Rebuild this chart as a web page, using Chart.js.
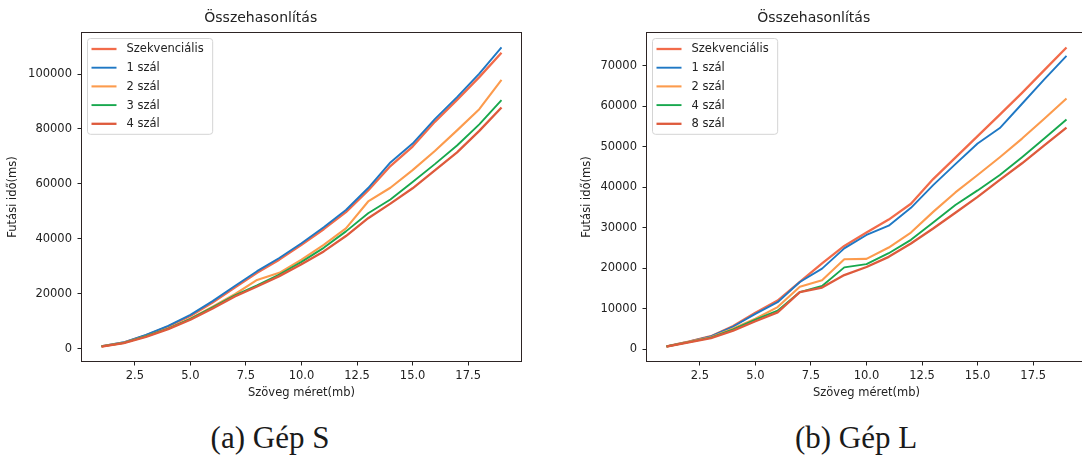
<!DOCTYPE html>
<html lang="hu">
<head>
<meta charset="utf-8">
<title>Összehasonlítás</title>
<script src="https://cdn.jsdelivr.net/npm/chart.js@4.4.1/dist/chart.umd.min.js"></script>
<style>
  html, body { margin: 0; padding: 0; background: #fff; overflow: hidden; }
  #page { position: relative; width: 1082px; height: 458px; overflow: hidden; background: #fff; }
  canvas { position: absolute; top: 0; }
  #chartS { left: 0; }
  #chartL { left: 541px; }
  .caption {
    position: absolute; top: 422px;
    font: 31px/31px "Liberation Serif", serif; color: #1a1a1a;
    white-space: nowrap; transform: translateX(-50%);
  }
</style>
</head>
<body>
<div id="page">
  <canvas id="chartS" width="603" height="400"></canvas>
  <canvas id="chartL" width="651" height="400"></canvas>
  <div class="caption" style="left:270px">(a) Gép S</div>
  <div class="caption" style="left:856px">(b) Gép L</div>
</div>
<script>
// text size in MB on the x axis
const sizesMb = [1, 2, 3, 4, 5, 6, 7, 8, 9, 10, 11, 12, 13, 14, 15, 16, 17, 18, 19];
const xTicks = [2.5, 5, 7.5, 10, 12.5, 15, 17.5];

// machine S, running time in ms
const labelsS = ['Szekvenciális', '1 szál', '2 szál', '3 szál', '4 szál'];
const yTicksS = [0, 20000, 40000, 60000, 80000, 100000];
const sSeq = [850, 2200, 4850, 8050, 11900, 16800, 22200, 27600, 32400, 37800, 43500, 49700, 57600, 66500, 73600, 82600, 90600, 98900, 107800];
const sT1 = [900, 2300, 5000, 8300, 12300, 17300, 22800, 28200, 33000, 38400, 44200, 50500, 58500, 67800, 74700, 83600, 91600, 100200, 109700];
const sT2 = [800, 2100, 4500, 7300, 10900, 15300, 19800, 25000, 27600, 32400, 37800, 43800, 53600, 58600, 65000, 72000, 79500, 87200, 97900];
const sT3 = [800, 2100, 4500, 7300, 10800, 15000, 19400, 23000, 27000, 31600, 36700, 42700, 49300, 54300, 60700, 67200, 74000, 81700, 90500];
const sT4 = [750, 2000, 4300, 7100, 10500, 14600, 19000, 22600, 26400, 30700, 35400, 41000, 47500, 52800, 58400, 64900, 71500, 79300, 87800];

// machine L, running time in ms
const labelsL = ['Szekvenciális', '1 szál', '2 szál', '4 szál', '8 szál'];
const yTicksL = [0, 10000, 20000, 30000, 40000, 50000, 60000, 70000];
const lSeq = [700, 1850, 3200, 5700, 9000, 12000, 16600, 21200, 25500, 28800, 32000, 35900, 42000, 47300, 52600, 57900, 63300, 68900, 74500];
const lT1 = [700, 1850, 3150, 5600, 8700, 11600, 16600, 19900, 24900, 28200, 30500, 34900, 40500, 45700, 50800, 54600, 60600, 66600, 72400];
const lT2 = [650, 1800, 2950, 5100, 7500, 10400, 15400, 17000, 22200, 22300, 25100, 28800, 33900, 38700, 43000, 47400, 52000, 56900, 61900];
const lT4 = [650, 1750, 2850, 4900, 7300, 9500, 14100, 15600, 20200, 21000, 23700, 27000, 31300, 35600, 39200, 43000, 47400, 52000, 56700];
const lT8 = [650, 1700, 2750, 4570, 6900, 9100, 14100, 15200, 18300, 20300, 22800, 26100, 29800, 33700, 37600, 41800, 45900, 50300, 54700];

const lineColors = ['#f26b4a', '#1f78c4', '#fc9b4d', '#18a84e', '#de5a3c'];
const lineWidths = [2.3, 1.9, 2.1, 1.9, 2.3];

const FONT = '"DejaVu Sans", sans-serif';
const INK = '#222222';
const SPINE = '#2d2424';

// 5% margin on both ends, like matplotlib's autoscale
function padRange(values, frac) {
  const lo = Math.min(...values), hi = Math.max(...values);
  const d = (hi - lo) * frac;
  return [lo - d, hi + d];
}

// box around the plotting area
const axesFrame = {
  id: 'axesFrame',
  afterDatasetsDraw(chart) {
    const {ctx, chartArea: a} = chart;
    ctx.save();
    ctx.strokeStyle = SPINE;
    ctx.lineWidth = 1;
    ctx.strokeRect(a.left, a.top, a.right - a.left, a.bottom - a.top);
    ctx.restore();
  }
};

// legend drawn inside the upper left corner of the plot
const insetLegend = {
  id: 'insetLegend',
  afterDraw(chart, args, opts) {
    const {ctx, chartArea: a} = chart;
    const sets = chart.data.datasets;
    ctx.save();
    ctx.font = opts.fontSize + 'px ' + FONT;
    const textW = Math.max(...sets.map(d => ctx.measureText(d.label).width));
    const x0 = a.left + opts.inset;
    const y0 = a.top + opts.inset;
    const w = opts.textOffset + textW + opts.padRight;
    const h = opts.rowTop * 2 + (sets.length - 1) * opts.rowStep;
    const r = 3;
    ctx.beginPath();
    ctx.moveTo(x0 + r, y0);
    ctx.lineTo(x0 + w - r, y0);
    ctx.arcTo(x0 + w, y0, x0 + w, y0 + r, r);
    ctx.lineTo(x0 + w, y0 + h - r);
    ctx.arcTo(x0 + w, y0 + h, x0 + w - r, y0 + h, r);
    ctx.lineTo(x0 + r, y0 + h);
    ctx.arcTo(x0, y0 + h, x0, y0 + h - r, r);
    ctx.lineTo(x0, y0 + r);
    ctx.arcTo(x0, y0, x0 + r, y0, r);
    ctx.closePath();
    ctx.fillStyle = 'rgba(255,255,255,0.8)';
    ctx.fill();
    ctx.strokeStyle = '#d4d4d4';
    ctx.lineWidth = 1;
    ctx.stroke();
    ctx.textBaseline = 'middle';
    ctx.fillStyle = INK;
    sets.forEach((d, i) => {
      const y = y0 + opts.rowTop + i * opts.rowStep;
      ctx.beginPath();
      ctx.moveTo(x0 + opts.handleStart, y);
      ctx.lineTo(x0 + opts.handleStart + opts.handleLen, y);
      ctx.strokeStyle = d.borderColor;
      ctx.lineWidth = d.borderWidth;
      ctx.stroke();
      ctx.fillText(d.label, x0 + opts.textOffset, y + 0.5);
    });
    ctx.restore();
  }
};

function makeChart(canvasId, labels, series, yTicks, yAxisWidth, yTitlePad) {
  const [xLo, xHi] = padRange(sizesMb, 0.05);
  const [yLo, yHi] = padRange(series.flat(), 0.05);
  const tickFont = {family: FONT, size: 11.5};
  const gridOpts = {drawOnChartArea: false, drawTicks: true, tickLength: 4, tickColor: INK, tickWidth: 1, color: INK};

  return new Chart(document.getElementById(canvasId), {
    type: 'line',
    data: {
      datasets: series.map((vals, i) => ({
        label: labels[i],
        data: sizesMb.map((x, j) => ({x: x, y: vals[j]})),
        borderColor: lineColors[i],
        borderWidth: lineWidths[i],
        borderJoinStyle: 'round',
        pointRadius: 0,
        tension: 0,
        fill: false,
        order: series.length - i
      }))
    },
    options: {
      responsive: false,
      animation: false,
      events: [],
      layout: {padding: {left: 0, top: 0, right: yAxisWidth, bottom: 0}, autoPadding: false},
      plugins: {
        legend: {display: false},
        tooltip: {enabled: false},
        title: {
          display: true,
          text: 'Összehasonlítás',
          color: INK,
          font: {family: FONT, size: 14, weight: 'normal'},
          padding: {top: 10, bottom: 5.7}
        },
        insetLegend: {
          fontSize: 11.5, inset: 6, rowTop: 10.5, rowStep: 18.7,
          handleStart: 4, handleLen: 25, textOffset: 39, padRight: 9
        }
      },
      scales: {
        x: {
          type: 'linear',
          min: xLo,
          max: xHi,
          afterBuildTicks: s => { s.ticks = xTicks.map(v => ({value: v})); },
          afterFit: s => { s.height = 38.5; },
          ticks: {
            autoSkip: false, maxRotation: 0,
            callback: v => v.toFixed(1), font: tickFont, color: INK, padding: 3.5
          },
          grid: gridOpts,
          border: {display: false},
          title: {display: true, text: 'Szöveg méret(mb)', color: INK, font: tickFont, padding: {top: 0, bottom: 0}}
        },
        y: {
          type: 'linear',
          min: yLo,
          max: yHi,
          afterBuildTicks: s => { s.ticks = yTicks.map(v => ({value: v})); },
          afterFit: s => { s.width = yAxisWidth; },
          ticks: {
            autoSkip: false,
            callback: v => String(v), font: tickFont, color: INK, padding: 5.5
          },
          grid: gridOpts,
          border: {display: false},
          title: {display: true, text: 'Futási idő(ms)', color: INK, font: tickFont, padding: {top: yTitlePad, bottom: 0}}
        }
      }
    },
    plugins: [axesFrame, insetLegend]
  });
}

makeChart('chartS', labelsS, [sSeq, sT1, sT2, sT3, sT4], yTicksS, 81.5, 6.5);
makeChart('chartL', labelsL, [lSeq, lT1, lT2, lT4, lT8], yTicksL, 105.5, 39);
</script>
</body>
</html>
